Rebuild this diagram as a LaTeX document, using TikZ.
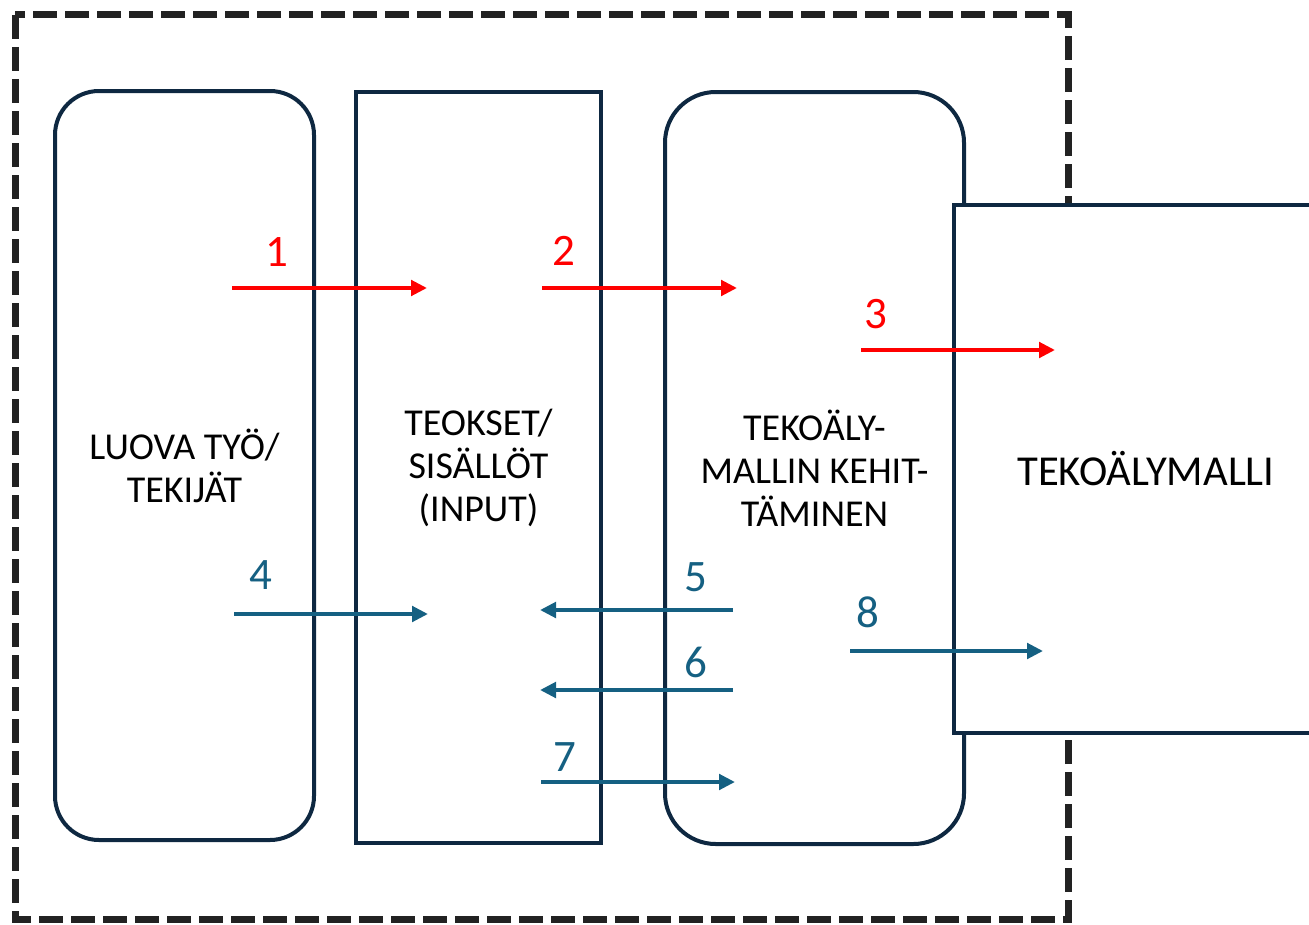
\documentclass[tikz,border=0pt]{standalone}
\usepackage{fontspec}
\setmainfont{Carlito}
\usetikzlibrary{arrows.meta}
\definecolor{boxline}{HTML}{0E2841}
\definecolor{arrowblue}{HTML}{156082}
\definecolor{arrowred}{HTML}{FF0000}
\definecolor{dashcol}{HTML}{222222}
\begin{document}
\begin{tikzpicture}[x=0.75pt,y=-0.75pt,
  boxstyle/.style={draw=boxline, line width=3pt, align=center, inner sep=0pt,
    font=\fontsize{28.5}{32.25}\selectfont},
  dashbox/.style={draw=dashcol, line width=5.25pt, dash pattern=on 18pt off 6pt},
  redarrow/.style={draw=arrowred, line width=3pt, -{Triangle[length=12pt,width=11.5pt]}},
  bluearrow/.style={draw=arrowblue, line width=3pt, -{Triangle[length=12pt,width=11.5pt]}},
  numlabel/.style={inner sep=0pt, font=\fontsize{33.75}{40}\selectfont},
]
\useasboundingbox (0,0) rectangle (1309,924);
\clip (0,0) rectangle (1309,924);

% outer dashed frame
\draw[dashbox] (15,15) rectangle (1068,919);

% boxes
\node[boxstyle, rounded corners=33pt, minimum width=259*0.75pt, minimum height=749*0.75pt]
  (luova) at (184.5,465.5) {LUOVA TYÖ/\\TEKIJÄT};
\node[boxstyle, minimum width=245*0.75pt, minimum height=751*0.75pt]
  (teokset) at (478.5,467.5) {TEOKSET/\\SISÄLLÖT\\(INPUT)};
\node[boxstyle, rounded corners=38pt, minimum width=299*0.75pt, minimum height=752*0.75pt]
  (kehitys) at (814.5,468) {TEKOÄLY-\\MALLIN KEHIT-\\TÄMINEN};
\node[boxstyle, fill=white, minimum width=384*0.75pt, minimum height=528*0.75pt,
  font=\fontsize{32}{36}\selectfont]
  (malli) at (1146,469) {TEKOÄLYMALLI};

% arrow end points
\coordinate (a1s) at (232,288);  \coordinate (a1e) at (427,288);
\coordinate (a2s) at (542,288);  \coordinate (a2e) at (737,288);
\coordinate (a3s) at (861,350);  \coordinate (a3e) at (1055,350);
\coordinate (a4s) at (234,614);  \coordinate (a4e) at (428,614);
\coordinate (a5s) at (733,610);  \coordinate (a5e) at (540,610);
\coordinate (a6s) at (733,690);  \coordinate (a6e) at (540,690);
\coordinate (a7s) at (541,782);  \coordinate (a7e) at (735,782);
\coordinate (a8s) at (850,651);  \coordinate (a8e) at (1043,651);

% arrows
\draw[redarrow] (a1s) -- (a1e);
\draw[redarrow] (a2s) -- (a2e);
\draw[redarrow] (a3s) -- (a3e);
\draw[bluearrow] (a4s) -- (a4e);
\draw[bluearrow] (a5s) -- (a5e);
\draw[bluearrow] (a6s) -- (a6e);
\draw[bluearrow] (a7s) -- (a7e);
\draw[bluearrow] (a8s) -- (a8e);

% labels
\node[numlabel, text=arrowred] (n1) at (277,252) {1};
\node[numlabel, text=arrowred] (n2) at (564,251) {2};
\node[numlabel, text=arrowred] (n3) at (876,314) {3};
\node[numlabel, text=arrowblue] (n4) at (261,575) {4};
\node[numlabel, text=arrowblue] (n5) at (696,577) {5};
\node[numlabel, text=arrowblue] (n6) at (696,662) {6};
\node[numlabel, text=arrowblue] (n7) at (565,757) {7};
\node[numlabel, text=arrowblue] (n8) at (868,612) {8};
\end{tikzpicture}
\end{document}
